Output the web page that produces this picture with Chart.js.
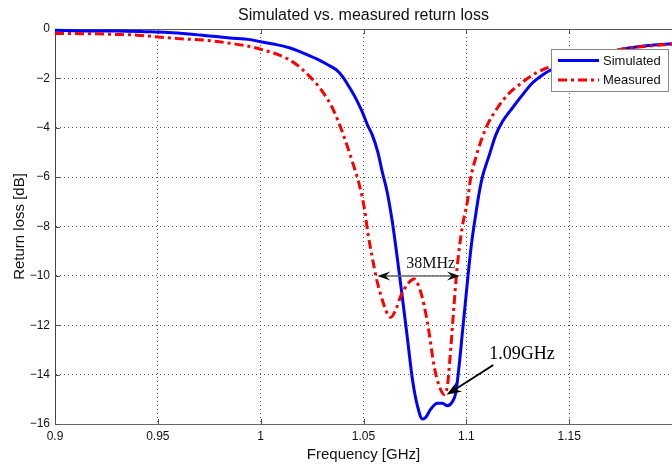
<!DOCTYPE html>
<html>
<head>
<meta charset="utf-8">
<script src="https://cdn.jsdelivr.net/npm/chart.js@4/dist/chart.umd.min.js"></script>
<style>
  html, body { margin: 0; padding: 0; background: #fff; }
  canvas { display: block; }
</style>
</head>
<body>
<canvas id="c" width="672" height="469"></canvas>
<script>
// ---------------- data ----------------
const chartTitle = 'Simulated vs. measured return loss';
const xAxisTitle = 'Frequency [GHz]';
const yAxisTitle = 'Return loss [dB]';
const seriesNames = ['Simulated', 'Measured'];

const simFreq = [0.900,0.915,0.930,0.945,0.955,0.965,0.975,0.985,0.995,1.000,1.007,1.014,1.020,1.027,1.032,1.037,1.040,1.043,1.0465,1.0494,1.052,1.0543,1.057,1.0591,1.0615,1.064,1.0665,1.069,1.0714,1.0738,1.0762,1.0787,1.0803,1.0827,1.0859,1.0884,1.0908,1.0932,1.0949,1.0965,1.0981,1.0997,1.1013,1.1029,1.1046,1.106,1.1078,1.111,1.1143,1.1175,1.1223,1.1272,1.132,1.1369,1.1401,1.150,1.160,1.170,1.177,1.190,1.200];
const simRL   = [-0.05,-0.08,-0.08,-0.11,-0.14,-0.20,-0.28,-0.36,-0.43,-0.52,-0.62,-0.76,-0.95,-1.20,-1.42,-1.67,-1.95,-2.34,-2.85,-3.36,-3.9,-4.3,-5.0,-5.78,-6.6,-7.8,-9.32,-10.94,-12.56,-14.2,-15.26,-15.8,-15.73,-15.4,-15.16,-15.16,-15.26,-15.1,-14.72,-13.64,-12.28,-10.94,-9.6,-8.45,-7.5,-6.75,-6.0,-5.15,-4.3,-3.76,-3.21,-2.68,-2.2,-1.87,-1.7,-1.38,-1.12,-0.93,-0.8,-0.66,-0.6];

const measFreq = [0.900,0.915,0.930,0.940,0.950,0.960,0.972,0.980,0.986,0.993,1.000,1.0091,1.014,1.0188,1.0269,1.031,1.0349,1.0397,1.0446,1.048,1.0505,1.052,1.0544,1.056,1.0585,1.0617,1.0633,1.0658,1.0682,1.0714,1.0746,1.0771,1.0795,1.0819,1.0843,1.0868,1.0892,1.0908,1.0924,1.094,1.0956,1.0981,1.1005,1.1021,1.1045,1.107,1.1102,1.115,1.1207,1.1256,1.132,1.1385,1.150,1.160,1.170,1.180,1.190,1.200];
const measRL   = [-0.18,-0.19,-0.22,-0.25,-0.32,-0.39,-0.45,-0.52,-0.59,-0.68,-0.82,-1.06,-1.25,-1.53,-2.2,-2.65,-3.2,-4.17,-5.38,-6.32,-7.3,-8.2,-9.32,-10.0,-10.8,-11.55,-11.68,-11.35,-10.8,-10.34,-10.13,-10.47,-11.2,-12.3,-13.64,-14.45,-14.8,-14.45,-12.97,-11.2,-9.6,-7.98,-7.0,-6.05,-5.24,-4.57,-3.89,-3.21,-2.61,-2.27,-1.87,-1.6,-1.3,-1.1,-0.9,-0.76,-0.68,-0.62];

const xRange = [0.9, 1.2];
const xStep = 0.05;
const yRange = [-16, 0];
const yStep = 2;

// annotations (data coordinates)
const bwArrowX = [1.0567, 1.0969];
const bwArrowY = -10;
const bwLabel = '38MHz';
const bwLabelAt = [1.0827, -9.68];
const peakLabel = '1.09GHz';
const peakTip = [1.0904, -14.82];
const peakTail = [1.1131, -13.61];
const peakLabelAt = [1.1111, -13.38];

// ---------------- chart ----------------
const SANS = "'Liberation Sans', Arial, Helvetica, sans-serif";
const SERIF = "'Liberation Serif', 'Times New Roman', serif";
Chart.defaults.font.family = SANS;
Chart.defaults.color = '#000';

function pts(xs, ys) { return xs.map((x, i) => ({ x: x, y: ys[i] })); }

function arrowHead(ctx, tx, ty, ang, len, half) {
  const bx = tx - len * Math.cos(ang), by = ty - len * Math.sin(ang);
  const nx = tx - len * 0.65 * Math.cos(ang), ny = ty - len * 0.65 * Math.sin(ang);
  const px = -Math.sin(ang), py = Math.cos(ang);
  ctx.beginPath();
  ctx.moveTo(tx, ty);
  ctx.lineTo(bx + px * half, by + py * half);
  ctx.lineTo(nx, ny);
  ctx.lineTo(bx - px * half, by - py * half);
  ctx.closePath();
  ctx.fill();
}

const overlay = {
  id: 'overlay',
  beforeDatasetsDraw(chart) {
    const { ctx, chartArea: a, scales: { x, y } } = chart;
    ctx.save();
    ctx.strokeStyle = '#555';
    ctx.lineWidth = 1;
    // top frame line
    ctx.beginPath();
    ctx.moveTo(a.left, a.top + 0.5);
    ctx.lineTo(a.right, a.top + 0.5);
    ctx.stroke();
    // inner tick marks
    ctx.beginPath();
    x.ticks.forEach(t => {
      const px = Math.round(x.getPixelForValue(t.value)) + 0.5;
      ctx.moveTo(px, a.bottom); ctx.lineTo(px, a.bottom - 5);
      ctx.moveTo(px, a.top); ctx.lineTo(px, a.top + 5);
    });
    y.ticks.forEach(t => {
      const py = Math.round(y.getPixelForValue(t.value)) + 0.5;
      ctx.moveTo(a.left, py); ctx.lineTo(a.left + 5, py);
    });
    ctx.stroke();
    ctx.restore();
  },
  afterDatasetsDraw(chart) {
    const { ctx, chartArea: a, scales: { x, y } } = chart;
    ctx.save();
    // 38MHz double arrow
    const ax1 = x.getPixelForValue(bwArrowX[0]);
    const ax2 = x.getPixelForValue(bwArrowX[1]);
    const ay = y.getPixelForValue(bwArrowY);
    ctx.strokeStyle = '#666';
    ctx.lineWidth = 1.5;
    ctx.beginPath();
    ctx.moveTo(ax1 + 8, ay); ctx.lineTo(ax2 - 8, ay);
    ctx.stroke();
    ctx.fillStyle = '#111';
    arrowHead(ctx, ax1, ay, Math.PI, 13, 4.5);
    arrowHead(ctx, ax2, ay, 0, 13, 4.5);
    ctx.font = '16px ' + SERIF;
    ctx.fillStyle = '#111';
    ctx.textAlign = 'center';
    ctx.textBaseline = 'alphabetic';
    ctx.fillText(bwLabel, x.getPixelForValue(bwLabelAt[0]), y.getPixelForValue(bwLabelAt[1]));
    // 1.09GHz arrow
    const tx = x.getPixelForValue(peakTip[0]), ty = y.getPixelForValue(peakTip[1]);
    const sx = x.getPixelForValue(peakTail[0]), sy = y.getPixelForValue(peakTail[1]);
    const ang = Math.atan2(ty - sy, tx - sx);
    ctx.strokeStyle = '#000';
    ctx.lineWidth = 2;
    ctx.beginPath();
    ctx.moveTo(sx, sy);
    ctx.lineTo(tx - 10 * Math.cos(ang), ty - 10 * Math.sin(ang));
    ctx.stroke();
    ctx.fillStyle = '#000';
    arrowHead(ctx, tx, ty, ang, 15, 5.5);
    ctx.font = '18px ' + SERIF;
    ctx.textAlign = 'left';
    ctx.fillText(peakLabel, x.getPixelForValue(peakLabelAt[0]), y.getPixelForValue(peakLabelAt[1]));
    // legend box
    const lx = a.right - 121, ly = a.top + 20, lw = 117, lh = 42;
    ctx.fillStyle = '#fff';
    ctx.fillRect(lx, ly, lw, lh);
    ctx.strokeStyle = '#888';
    ctx.lineWidth = 1;
    ctx.strokeRect(lx + 0.5, ly + 0.5, lw, lh);
    ctx.font = '13px ' + SANS;
    ctx.textAlign = 'left';
    ctx.textBaseline = 'middle';
    chart.data.datasets.forEach((ds, i) => {
      const yy = ly + 11.5 + i * 19.5;
      ctx.strokeStyle = ds.borderColor;
      ctx.lineWidth = ds.borderWidth;
      ctx.setLineDash(ds.borderDash || []);
      ctx.beginPath();
      ctx.moveTo(lx + 7, yy); ctx.lineTo(lx + 48, yy);
      ctx.stroke();
      ctx.setLineDash([]);
      ctx.fillStyle = '#111';
      ctx.fillText(ds.label, lx + 52, yy + 0.5);
    });
    ctx.restore();
  }
};

new Chart(document.getElementById('c'), {
  type: 'line',
  data: {
    datasets: [
      {
        label: seriesNames[0],
        data: pts(simFreq, simRL),
        borderColor: '#0000ff',
        borderWidth: 3,
        pointRadius: 0,
        cubicInterpolationMode: 'monotone',
        fill: false,
        clip: 3,
        order: 1
      },
      {
        label: seriesNames[1],
        data: pts(measFreq, measRL),
        borderColor: '#ff0000',
        borderWidth: 3,
        borderDash: [9, 4, 3, 4],
        pointRadius: 0,
        cubicInterpolationMode: 'monotone',
        fill: false,
        clip: 3,
        order: 0
      }
    ]
  },
  options: {
    responsive: false,
    devicePixelRatio: 1,
    animation: false,
    events: [],
    layout: { padding: 0 },
    plugins: {
      legend: { display: false },
      tooltip: { enabled: false },
      title: {
        display: true,
        text: chartTitle,
        fullSize: false,
        color: '#111',
        font: { size: 16, weight: 'normal', family: SANS },
        padding: { top: 6, bottom: 3.8 }
      }
    },
    scales: {
      x: {
        type: 'linear',
        min: xRange[0],
        max: xRange[1],
        afterFit: s => { s.height = 45; s.paddingRight = 0; s.paddingLeft = 0; },
        ticks: {
          stepSize: xStep,
          padding: 5,
          maxRotation: 0,
          autoSkip: false,
          color: '#111',
          font: { size: 12 },
          callback: v => (v > xRange[1] - 0.001 ? '' : String(Math.round(v * 100) / 100))
        },
        grid: { color: '#555', lineWidth: 1, drawTicks: false },
        border: { display: true, color: '#666', width: 1, dash: [1, 3] },
        title: {
          display: true,
          text: xAxisTitle,
          color: '#111',
          font: { size: 15 },
          padding: { top: 0, bottom: 5 }
        }
      },
      y: {
        type: 'linear',
        min: yRange[0],
        max: yRange[1],
        afterFit: s => { s.width = 55; },
        ticks: {
          stepSize: yStep,
          padding: 5,
          color: '#111',
          font: { size: 12 },
          callback: v => (v < 0 ? '\u2212' + Math.abs(v) : String(v))
        },
        grid: { color: '#555', lineWidth: 1, drawTicks: false },
        border: { display: true, color: '#444', width: 1, dash: [1, 3] },
        title: {
          display: true,
          text: yAxisTitle,
          color: '#111',
          font: { size: 15 },
          padding: { top: 11, bottom: 0 }
        }
      }
    }
  },
  plugins: [overlay]
});
</script>
</body>
</html>
